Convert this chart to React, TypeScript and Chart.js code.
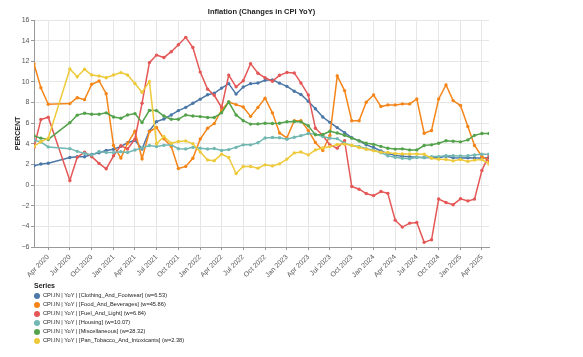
import React, { useEffect, useRef } from "react";
import { Chart, registerables } from "chart.js";

Chart.register(...registerables);

const FONT = "'Liberation Sans', Arial, Helvetica, sans-serif";

const chartTitle = "Inflation (Changes in CPI YoY)";
const yAxisTitle = "PERCENT";
const legendTitle = "Series";

// Monthly observations (May/Jun 2020 absent in the source)
const months = [
  "2020-02", "2020-03", "2020-04", "2020-07", "2020-08", "2020-09", "2020-10", "2020-11", "2020-12",
  "2021-01", "2021-02", "2021-03", "2021-04", "2021-05", "2021-06", "2021-07", "2021-08", "2021-09", "2021-10", "2021-11", "2021-12",
  "2022-01", "2022-02", "2022-03", "2022-04", "2022-05", "2022-06", "2022-07", "2022-08", "2022-09", "2022-10", "2022-11", "2022-12",
  "2023-01", "2023-02", "2023-03", "2023-04", "2023-05", "2023-06", "2023-07", "2023-08", "2023-09", "2023-10", "2023-11", "2023-12",
  "2024-01", "2024-02", "2024-03", "2024-04", "2024-05", "2024-06", "2024-07", "2024-08", "2024-09", "2024-10", "2024-11", "2024-12",
  "2025-01", "2025-02", "2025-03", "2025-04", "2025-05",
];

const clothingAndFootwear = [
  1.88, 2.05, 2.11, 2.67, 2.75, 2.75, 2.96, 3.13, 3.35,
  3.47, 3.75, 4.1, 4.35, 3.5, 5.25, 6.15, 6.4, 6.8, 7.22, 7.53, 7.93,
  8.33, 8.75, 8.9, 9.4, 9.83, 8.82, 9.5, 9.83, 9.9, 10.15, 10.2, 9.88,
  9.57, 9.1, 8.78, 8.12, 7.4, 6.6, 6.08, 5.57, 5.08, 4.6, 4.29, 3.9,
  3.65, 3.3, 3.05, 2.88, 2.8, 2.75, 2.7, 2.68, 2.66, 2.66, 2.8, 2.66,
  2.62, 2.64, 2.62, 2.62, 2.65,
];

const foodAndBeverages = [
  11.74, 9.44, 7.83, 7.9, 8.47, 8.28, 9.77, 10.09, 8.86,
  3.83, 2.62, 4.05, 5.22, 2.55, 5.19, 5.58, 4.48, 3.74, 1.6, 1.81, 2.6,
  4.46, 5.51, 5.96, 7.28, 8.06, 7.8, 7.57, 6.66, 7.53, 8.42, 7.0, 5.05,
  4.58, 6.24, 6.24, 5.3, 4.13, 3.35, 4.8, 10.58, 9.16, 6.23, 6.23, 8.03,
  8.74, 7.61, 7.77, 7.77, 7.87, 7.87, 8.35, 5.03, 5.29, 8.35, 9.71, 8.19,
  7.71, 5.68, 3.84, 2.77, 2.35,
];

const fuelAndLight = [
  3.66, 6.35, 6.58, 0.45, 2.69, 3.19, 2.75, 2.1, 1.58,
  2.84, 3.82, 3.5, 4.45, 7.94, 11.87, 12.6, 12.36, 12.93, 13.6, 14.32, 13.33,
  10.95, 9.3, 8.7, 7.53, 10.66, 9.52, 10.11, 11.77, 10.84, 10.4, 10.07, 10.64,
  10.92, 10.87, 9.9, 8.74, 5.51, 4.8, 3.9, 3.58, 4.3, -0.14, -0.4, -0.82,
  -1.02, -0.62, -0.8, -3.4, -4.07, -3.69, -3.62, -5.55, -5.3, -1.35, -1.69, -1.9,
  -1.33, -1.53, -1.36, 1.41, 2.93,
];

const housing = [
  4.35, 4.17, 3.7, 3.53, 3.27, 3.07, 2.91, 3.25, 3.15,
  3.15, 3.24, 3.17, 3.4, 3.6, 3.83, 3.73, 3.85, 3.9, 3.52, 3.5, 3.66,
  3.58, 3.5, 3.54, 3.35, 3.44, 3.66, 3.9, 3.9, 4.1, 4.57, 4.62, 4.59,
  4.45, 4.64, 4.79, 5.0, 4.94, 4.7, 4.55, 4.5, 4.06, 3.84, 3.74, 3.52,
  3.4, 3.14, 2.83, 2.7, 2.6, 2.55, 2.7, 2.66, 2.76, 2.76, 2.85, 2.85,
  2.82, 2.85, 2.92, 3.0, 3.0,
];

const miscellaneous = [
  4.77, 4.55, 4.43, 6.05, 6.78, 6.96, 6.87, 6.87, 7.0,
  6.6, 6.48, 6.8, 6.93, 6.07, 7.24, 7.22, 6.69, 6.38, 6.38, 6.8, 6.7,
  6.64, 6.55, 6.55, 7.0, 8.05, 6.8, 6.24, 5.91, 5.93, 6.0, 5.97, 6.0,
  6.14, 6.16, 6.13, 5.75, 4.87, 4.9, 5.22, 5.05, 4.83, 4.55, 4.29, 4.06,
  3.95, 3.75, 3.57, 3.49, 3.51, 3.41, 3.41, 3.83, 3.9, 4.06, 4.3, 4.25,
  4.19, 4.38, 4.82, 5.0, 5.0,
];

const panTobaccoAndIntoxicants = [
  3.74, 4.2, 4.55, 11.25, 10.5, 11.22, 10.67, 10.57, 10.41,
  10.67, 10.9, 10.67, 9.85, 9.0, 10.03, 4.0, 4.71, 4.06, 4.22, 4.28, 4.0,
  3.2, 2.44, 2.37, 3.0, 2.67, 1.12, 1.8, 1.8, 1.64, 1.96, 1.86, 2.06,
  2.52, 3.12, 3.2, 2.93, 3.41, 3.6, 3.73, 3.93, 3.97, 3.86, 3.65, 3.48,
  3.32, 3.19, 3.16, 3.05, 3.02, 3.02, 3.02, 2.99, 2.6, 2.5, 2.48, 2.35,
  2.48, 2.28, 2.42, 2.48, 2.05,
];

const seriesLabels = [
  "CPI.IN | YoY | [Clothing_And_Footwear] (w=6.53)",
  "CPI.IN | YoY | [Food_And_Beverages] (w=45.86)",
  "CPI.IN | YoY | [Fuel_And_Light] (w=6.84)",
  "CPI.IN | YoY | [Housing] (w=10.07)",
  "CPI.IN | YoY | [Miscellaneous] (w=28.32)",
  "CPI.IN | YoY | [Pan_Tobacco_And_Intoxicants] (w=2.38)",
];
const seriesValues = [
  clothingAndFootwear,
  foodAndBeverages,
  fuelAndLight,
  housing,
  miscellaneous,
  panTobaccoAndIntoxicants,
];
const seriesColors = ["#4c78a8", "#f58518", "#e45756", "#72b7b2", "#54a24b", "#eeca3b"];

const xTickMonths = [
  "2020-04", "2020-07", "2020-10",
  "2021-01", "2021-04", "2021-07", "2021-10",
  "2022-01", "2022-04", "2022-07", "2022-10",
  "2023-01", "2023-04", "2023-07", "2023-10",
  "2024-01", "2024-04", "2024-07", "2024-10",
  "2025-01", "2025-04",
];
const xTickLabels = [
  "Apr 2020", "Jul 2020", "Oct 2020",
  "Jan 2021", "Apr 2021", "Jul 2021", "Oct 2021",
  "Jan 2022", "Apr 2022", "Jul 2022", "Oct 2022",
  "Jan 2023", "Apr 2023", "Jul 2023", "Oct 2023",
  "Jan 2024", "Apr 2024", "Jul 2024", "Oct 2024",
  "Jan 2025", "Apr 2025",
];

const Y_MIN = -6;
const Y_MAX = 16;
const Y_STEP = 2;

const toTime = (s: string) => {
  const [y, m] = s.split("-").map(Number);
  return Date.UTC(y, m - 1, 1);
};

export default function App() {
  const canvasRef = useRef<HTMLCanvasElement | null>(null);

  useEffect(() => {
    const canvas = canvasRef.current;
    if (!canvas) return;
    const tickTimes = xTickMonths.map(toTime);
    const labelFor = (v: number) => {
      const i = tickTimes.indexOf(v);
      return i >= 0 ? xTickLabels[i] : "";
    };
    const n = seriesLabels.length;
    const chart = new Chart(canvas, {
      type: "line",
      data: {
        datasets: seriesLabels.map((label, i) => ({
          label,
          data: months.map((m, j) => ({ x: toTime(m), y: seriesValues[i][j] })),
          borderColor: seriesColors[i],
          backgroundColor: seriesColors[i],
          borderWidth: 1.5,
          pointRadius: 1.7,
          pointBorderWidth: 0,
          pointBackgroundColor: seriesColors[i],
          tension: 0,
          fill: false,
          order: n - 1 - i,
        })),
      },
      options: {
        animation: false,
        responsive: false,
        maintainAspectRatio: false,
        devicePixelRatio: 1,
        layout: { padding: { left: 0, right: 94, top: 0, bottom: 75 } },
        plugins: {
          legend: { display: false },
          tooltip: { enabled: false },
          title: {
            display: true,
            text: chartTitle,
            fullSize: false,
            color: "#222",
            font: { family: FONT, size: 7.5, weight: "bold" },
            padding: { top: 7, bottom: 4 },
          },
        },
        scales: {
          x: {
            type: "linear",
            min: toTime(months[0]),
            max: toTime(months[months.length - 1]),
            afterBuildTicks: (scale: any) => {
              scale.ticks = tickTimes.map((v) => ({ value: v }));
            },
            afterFit: (scale: any) => {
              scale.height = 35;
            },
            ticks: {
              autoSkip: false,
              minRotation: 45,
              maxRotation: 45,
              padding: 3,
              color: "#555",
              font: { family: FONT, size: 7 },
              callback: (v: any) => labelFor(Number(v)),
            },
            grid: { color: "#e6e6e6", tickLength: 3, tickColor: "#999", lineWidth: 1 },
            border: { color: "#999" },
          },
          y: {
            type: "linear",
            min: Y_MIN,
            max: Y_MAX,
            afterFit: (scale: any) => {
              scale.width = 34;
            },
            ticks: {
              stepSize: Y_STEP,
              padding: 1.5,
              color: "#555",
              font: { family: FONT, size: 7 },
              callback: (v: any) => String(v).replace("-", "\u2212"),
            },
            title: {
              display: true,
              text: yAxisTitle,
              color: "#222",
              font: { family: FONT, size: 7, weight: "bold" },
              padding: { top: 14, bottom: 0 },
            },
            grid: { color: "#e6e6e6", tickLength: 3, tickColor: "#999", lineWidth: 1 },
            border: { color: "#999" },
          },
        },
      },
    } as any);
    return () => chart.destroy();
  }, []);

  return (
    <div style={{ position: "absolute", left: 0, top: 0, width: 583, height: 357, background: "#fff", fontFamily: FONT }}>
      <canvas ref={canvasRef} width={583} height={357} style={{ width: 583, height: 357, display: "block" }} />
      <div style={{ position: "absolute", left: 34, top: 281, color: "#222" }}>
        <div style={{ fontWeight: "bold", fontSize: 7, lineHeight: "9px", marginBottom: 1 }}>{legendTitle}</div>
        {seriesLabels.map((label, i) => (
          <div key={label} style={{ display: "flex", alignItems: "center", height: 9, fontSize: 5.7, lineHeight: "9px", whiteSpace: "nowrap" }}>
            <span style={{ display: "inline-block", width: 6, height: 6, borderRadius: 3, background: seriesColors[i], marginRight: 3 }} />
            <span>{label}</span>
          </div>
        ))}
      </div>
    </div>
  );
}
